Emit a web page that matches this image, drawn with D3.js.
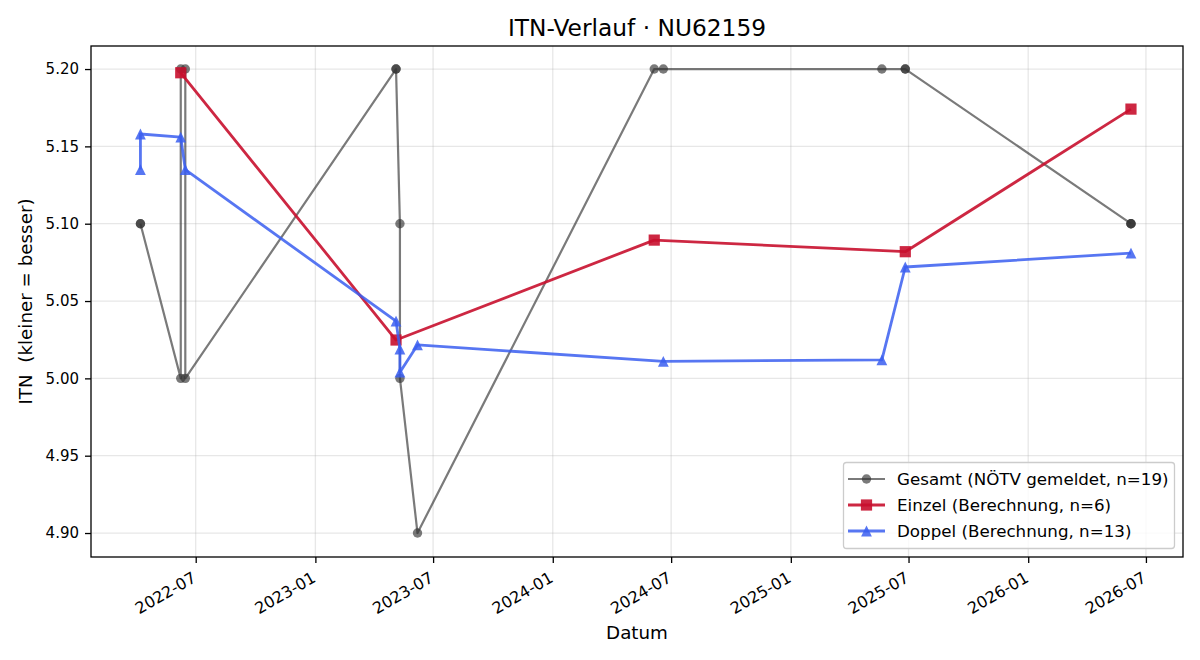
<!DOCTYPE html>
<html>
<head>
<meta charset="utf-8">
<script src="https://cdn.jsdelivr.net/npm/d3@7.9.0/dist/d3.min.js"></script>
<style>
  body { margin: 0; background: #fff; }
  svg { font-family: "DejaVu Sans", sans-serif; }
</style>
</head>
<body>
<svg id="chart" width="1200" height="660"></svg>
<script>
// --- data ---
const gesamtDates = ["2022-04-07","2022-04-07","2022-06-08","2022-06-08","2022-06-15","2022-06-15","2023-05-05","2023-05-05",
  "2023-05-11","2023-05-11","2023-06-07","2024-06-05","2024-06-19","2025-05-21","2025-06-26","2025-06-26",
  "2026-06-08","2026-06-08","2026-06-08"];
const gesamtValues = [5.10,5.10,5.00,5.20,5.20,5.00,5.20,5.20,5.10,5.00,4.90,5.20,5.20,5.20,5.20,5.20,5.10,5.10,5.10];

const einzelDates = ["2022-06-08","2023-05-05","2024-06-05","2025-06-26","2026-06-08"];
const einzelValues = [5.1976,5.0248,5.0894,5.0819,5.1741];

const doppelDates = ["2022-04-07","2022-04-07","2022-06-08","2022-06-15","2023-05-05","2023-05-11","2023-05-11",
  "2023-06-07","2024-06-19","2025-05-21","2025-06-26","2026-06-08"];
const doppelValues = [5.135,5.158,5.156,5.135,5.037,5.019,5.004,5.0216,5.011,5.012,5.072,5.081];

const yTicks = [4.90,4.95,5.00,5.05,5.10,5.15,5.20];
const xTicks = ["2022-07-01","2023-01-01","2023-07-01","2024-01-01","2024-07-01","2025-01-01","2025-07-01","2026-01-01","2026-07-01"];

const series = [
  { name: "Gesamt (NÖTV gemeldet, n=19)", dates: gesamtDates, values: gesamtValues, color: "#333333", opacity: 0.65, lw: 2.2, marker: "circle", size: 4.7 },
  { name: "Einzel (Berechnung, n=6)", dates: einzelDates, values: einzelValues, color: "#c8102e", opacity: 0.9, lw: 2.8, marker: "square", size: 5.6 },
  { name: "Doppel (Berechnung, n=13)", dates: doppelDates, values: doppelValues, color: "#3a5ef0", opacity: 0.85, lw: 2.8, marker: "triangle", size: 5.4 }
];

const FONT = "'DejaVu Sans', sans-serif";
const parse = d3.utcParse("%Y-%m-%d");
const svg = d3.select("#chart");
const margin = { top: 46, right: 17, bottom: 103, left: 91 };
const W = 1200, H = 660;
const innerW = W - margin.left - margin.right;
const innerH = H - margin.top - margin.bottom;

const x = d3.scaleUtc().domain([parse("2022-01-21"), parse("2026-08-27")]).range([0, innerW]);
const y = d3.scaleLinear().domain([4.8845, 5.2149]).range([innerH, 0]);

const g = svg.append("g").attr("transform", `translate(${margin.left},${margin.top})`);

// grid
g.append("g").selectAll("line").data(xTicks.map(parse)).join("line")
  .attr("x1", d => x(d)).attr("x2", d => x(d)).attr("y1", 0).attr("y2", innerH)
  .attr("stroke", "#b0b0b0").attr("stroke-opacity", 0.3).attr("stroke-width", 1.3);
g.append("g").selectAll("line").data(yTicks).join("line")
  .attr("y1", d => y(d)).attr("y2", d => y(d)).attr("x1", 0).attr("x2", innerW)
  .attr("stroke", "#b0b0b0").attr("stroke-opacity", 0.3).attr("stroke-width", 1.3);

// axes
const xAxis = g.append("g").attr("transform", `translate(0,${innerH})`)
  .call(d3.axisBottom(x).tickValues(xTicks.map(parse)).tickFormat(d3.utcFormat("%Y-%m")).tickSize(6).tickSizeOuter(0))
  .attr("font-family", FONT).attr("font-size", 16);
xAxis.selectAll("text")
  .attr("fill", "#000")
  .attr("text-anchor", "end")
  .attr("dy", null).attr("y", 0)
  .attr("transform", "translate(1,24) rotate(-30)");
const yAxis = g.append("g")
  .call(d3.axisLeft(y).tickValues(yTicks).tickFormat(d3.format(".2f")).tickSize(6).tickSizeOuter(0))
  .attr("font-family", FONT).attr("font-size", 15);
yAxis.selectAll("text").attr("fill", "#000").attr("x", -12);
g.selectAll(".domain").remove();
g.selectAll(".tick line").attr("stroke", "#000").attr("stroke-width", 1.3);

g.append("rect").attr("width", innerW).attr("height", innerH)
  .attr("fill", "none").attr("stroke", "#000").attr("stroke-width", 1.3);

// marker drawing
function drawMarker(sel, type, s) {
  if (type === "circle") return sel.append("circle").attr("r", s);
  if (type === "square") return sel.append("rect").attr("x", -s).attr("y", -s).attr("width", 2 * s).attr("height", 2 * s);
  return sel.append("path").attr("d", `M0,${-s}L${-s},${s}L${s},${s}Z`);
}

const plot = g.append("g");
series.forEach(sr => {
  const pts = sr.dates.map((d, i) => [x(parse(d)), y(sr.values[i])]);
  plot.append("path")
    .attr("d", d3.line()(pts))
    .attr("fill", "none").attr("stroke", sr.color).attr("stroke-opacity", sr.opacity)
    .attr("stroke-width", sr.lw).attr("stroke-linejoin", "round");
  pts.forEach(p => {
    const m = plot.append("g").attr("transform", `translate(${p[0]},${p[1]})`);
    drawMarker(m, sr.marker, sr.size).attr("fill", sr.color).attr("fill-opacity", sr.opacity);
  });
});

// title + labels
svg.append("text").attr("x", margin.left + innerW / 2).attr("y", 36)
  .attr("text-anchor", "middle").attr("font-size", 23.3).text("ITN-Verlauf · NU62159");
svg.append("text").attr("x", margin.left + innerW / 2).attr("y", 639)
  .attr("text-anchor", "middle").attr("font-size", 18.3).text("Datum");
svg.append("text").attr("transform", `translate(32,${margin.top + innerH / 2}) rotate(-90)`)
  .attr("text-anchor", "middle").attr("font-size", 18.3).attr("xml:space", "preserve").text("ITN  (kleiner = besser)");

// legend
const lg = svg.append("g").attr("transform", "translate(843,462)");
lg.append("rect").attr("x", 0.5).attr("y", 0.5).attr("width", 331).attr("height", 86).attr("rx", 3)
  .attr("fill", "#fff").attr("fill-opacity", 0.8).attr("stroke", "#ccc").attr("stroke-width", 1.3);
series.forEach((sr, i) => {
  const row = lg.append("g").attr("transform", `translate(0,${17 + i * 26})`);
  row.append("line").attr("x1", 5).attr("x2", 42)
    .attr("stroke", sr.color).attr("stroke-opacity", sr.opacity).attr("stroke-width", sr.lw);
  const m = row.append("g").attr("transform", "translate(23.5,0)");
  drawMarker(m, sr.marker, sr.size).attr("fill", sr.color).attr("fill-opacity", sr.opacity);
  row.append("text").attr("x", 54).attr("y", 6).attr("font-size", 16.7).text(sr.name);
});
</script>
</body>
</html>
